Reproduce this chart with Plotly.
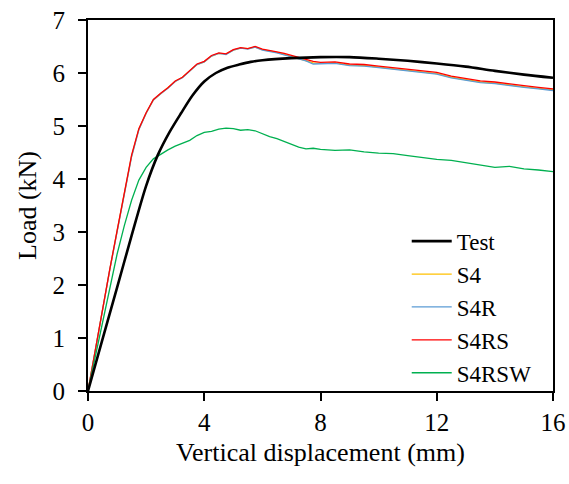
import plotly.graph_objects as go

# ---- Data ----
test_x = [0, 0.5, 1, 1.5, 2, 2.4, 2.8, 3.2, 3.6, 4.0, 4.4, 4.8, 5.2, 5.6, 6.0, 7, 8, 9, 10, 11, 12, 13, 14, 15, 16]
test_y = [0, 0.98, 1.95, 2.93, 3.87, 4.45, 4.88, 5.24, 5.58, 5.84, 6.0, 6.1, 6.16, 6.21, 6.24, 6.28, 6.30,
          6.30, 6.27, 6.23, 6.18, 6.12, 6.04, 5.97, 5.91]

sim_x = [0, 0.25, 0.5, 0.75, 1.0, 1.25, 1.5, 1.75, 2.0, 2.25, 2.5, 2.75, 3.0, 3.25, 3.5, 3.75,
         4.0, 4.25, 4.5, 4.75, 5.0, 5.25, 5.5, 5.75, 6.0, 6.25, 6.5, 6.75, 7.0, 7.25, 7.5, 7.75,
         8.0, 8.5, 9.0, 9.5, 10.0, 10.5, 11.0, 11.5, 12.0, 12.5, 13.0, 13.5, 14.0, 14.5, 15.0, 15.5, 16.0]

s4_y = [0, 0.78, 1.55, 2.29, 3.01, 3.71, 4.43, 4.94, 5.24, 5.49, 5.61, 5.72, 5.84, 5.92, 6.04, 6.16,
        6.21, 6.32, 6.37, 6.36, 6.43, 6.47, 6.46, 6.49, 6.44, 6.42, 6.39, 6.35, 6.31, 6.28, 6.24, 6.19,
        6.18, 6.19, 6.15, 6.14, 6.11, 6.08, 6.06, 6.02, 5.99, 5.92, 5.88, 5.83, 5.81, 5.77, 5.74, 5.71, 5.68]

s4r_y = [0, 0.78, 1.54, 2.29, 3.00, 3.70, 4.42, 4.93, 5.24, 5.49, 5.61, 5.71, 5.84, 5.91, 6.04, 6.16,
         6.21, 6.32, 6.37, 6.35, 6.43, 6.47, 6.45, 6.49, 6.43, 6.41, 6.38, 6.34, 6.30, 6.27, 6.23, 6.17,
         6.17, 6.18, 6.14, 6.13, 6.10, 6.07, 6.05, 6.01, 5.98, 5.91, 5.87, 5.82, 5.80, 5.76, 5.73, 5.70, 5.67]

s4rs_y = [0, 0.78, 1.55, 2.30, 3.02, 3.72, 4.45, 4.95, 5.25, 5.50, 5.62, 5.72, 5.85, 5.92, 6.05, 6.17,
          6.22, 6.33, 6.38, 6.36, 6.44, 6.48, 6.46, 6.50, 6.45, 6.43, 6.40, 6.37, 6.33, 6.30, 6.26, 6.22,
          6.20, 6.21, 6.17, 6.16, 6.13, 6.10, 6.08, 6.04, 6.01, 5.94, 5.90, 5.85, 5.83, 5.79, 5.76, 5.73, 5.70]

s4rsw_y = [0, 0.65, 1.30, 1.95, 2.58, 3.12, 3.60, 3.98, 4.22, 4.38, 4.47, 4.55, 4.62, 4.68, 4.73, 4.82,
           4.88, 4.90, 4.94, 4.96, 4.95, 4.92, 4.93, 4.91, 4.85, 4.80, 4.76, 4.71, 4.65, 4.60, 4.57, 4.58,
           4.56, 4.54, 4.55, 4.51, 4.49, 4.48, 4.44, 4.40, 4.37, 4.35, 4.31, 4.27, 4.22, 4.24, 4.19, 4.17, 4.14]

x_ticks = [0, 4, 8, 12, 16]
y_ticks = [0, 1, 2, 3, 4, 5, 6, 7]

FONT = "Liberation Serif, Times New Roman, serif"

fig = go.Figure()
fig.add_trace(go.Scatter(x=sim_x, y=s4_y, mode="lines", name="S4", legendrank=2,
                         line=dict(color="#FFC000", width=1.3)))
fig.add_trace(go.Scatter(x=sim_x, y=s4r_y, mode="lines", name="S4R", legendrank=3,
                         line=dict(color="#5B9BD5", width=1.3)))
fig.add_trace(go.Scatter(x=sim_x, y=s4rs_y, mode="lines", name="S4RS", legendrank=4,
                         line=dict(color="#FF0000", width=1.3)))
fig.add_trace(go.Scatter(x=sim_x, y=s4rsw_y, mode="lines", name="S4RSW", legendrank=5,
                         line=dict(color="#00B050", width=1.3)))
fig.add_trace(go.Scatter(x=test_x, y=test_y, mode="lines", name="Test", legendrank=1,
                         line=dict(color="black", width=2.6, shape="spline", smoothing=0.8)))

axis_common = dict(
    showline=True, linecolor="black", linewidth=2, mirror=True,
    ticks="outside", ticklen=8, tickwidth=2, tickcolor="black",
    showgrid=False, zeroline=False, automargin=False,
    ticklabeloverflow="allow",
    tickfont=dict(family=FONT, size=25, color="black"),
)

fig.update_layout(
    width=569, height=484,
    margin=dict(l=88, r=16, t=20, b=93),
    paper_bgcolor="white", plot_bgcolor="white",
    font=dict(family=FONT, color="black"),
    xaxis=dict(range=[0, 16], tickvals=x_ticks, ticktext=[str(v) for v in x_ticks],
               title=dict(text="Vertical displacement (mm)", font=dict(family=FONT, size=26), standoff=8),
               **axis_common),
    yaxis=dict(range=[0, 7], tickvals=y_ticks, ticktext=[str(v) for v in y_ticks],
               title=dict(text="Load (kN)", font=dict(family=FONT, size=26), standoff=8),
               ticklabelstandoff=8,
               **axis_common),
    legend=dict(x=0.965, xanchor="right", y=-0.01, yanchor="bottom",
                bgcolor="rgba(0,0,0,0)", font=dict(family=FONT, size=23, color="black"),
                traceorder="normal", tracegroupgap=0, itemwidth=40),
    showlegend=True,
)

# remove the browser's default 8px body margin so the figure fills the window exactly
fig.write_html("out.html",
               config={"displayModeBar": False},
               post_script="document.body.style.margin='0px';document.body.style.overflow='hidden';")
